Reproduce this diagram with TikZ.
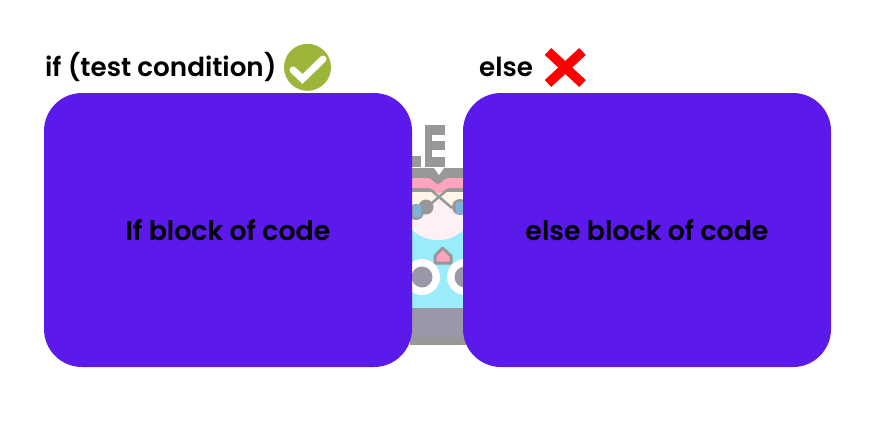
\documentclass[tikz,border=0pt]{standalone}
\usepackage{fontspec}
\setmainfont[BoldFont={Poppins SemiBold}]{Poppins}
\definecolor{blockc}{HTML}{5C19EC}
\definecolor{okc}{HTML}{9CB63A}
\definecolor{gA}{HTML}{989898}
\definecolor{gB}{HTML}{9898A8}
\definecolor{pinkc}{HTML}{FFA3BF}
\definecolor{creamc}{HTML}{FFF6E8}
\definecolor{facec}{HTML}{FFF0F5}
\definecolor{cyanc}{HTML}{98ECFB}
\definecolor{bluec}{HTML}{7FB2D6}
\tikzset{
  block/.style={fill=blockc,draw=none,rounded corners=38pt,minimum width=368pt,minimum height=274pt,inner sep=0pt,font=\bfseries\fontsize{26.8}{30}\selectfont,text=black},
  lab/.style={anchor=base west,inner sep=0pt,font=\bfseries\fontsize{26.2}{30}\selectfont,text=black}
}
\begin{document}
\begin{tikzpicture}[x=1pt,y=-1pt]
\useasboundingbox (0,0) rectangle (875,437);
% background picture showing between the blocks
\fill[gA] (425,125) rectangle (445,167);
\fill[white] (432,135) rectangle (445,141);
\fill[white] (432,150) rectangle (445,157);
\fill[gA] (405,156) rectangle (421,167);
\begin{scope}
\clip (410,168) rectangle (466,345);
\fill[gA] (405,168) rectangle (470,345);
\fill[cyanc] (405,222) rectangle (470,308);
\fill[facec] (405,192) -- (470,192) -- (470,224) .. controls (458,236) and (450,240) .. (438,240) .. controls (426,240) and (418,236) .. (405,224) -- cycle;
\fill[creamc] (405,192) rectangle (470,206);
\fill[facec] (428,206) -- (438,198) -- (448,206) -- cycle;
\fill[pinkc] (405,178) -- (428,178) .. controls (432,178) and (434,184) .. (438,184) .. controls (442,184) and (444,178) .. (448,178) -- (470,178) -- (470,188) -- (405,188) -- cycle;
\fill[pinkc] (428,187) -- (450,187) -- (439,194) -- cycle;
\fill[white] (434,168) -- (444,168) -- (439,175) -- cycle;
\fill[gB] (405,308) rectangle (470,337);
\draw[gA,line width=2.5pt] (405,190) -- (431,190) -- (452,208);
\draw[gA,line width=2.5pt] (470,190) -- (447,190) -- (426,208);
\fill[gA] (426,207) circle (7.5);
\fill[gA] (460,207) circle (8);
\fill[gA] (416,212) circle (8);
\fill[bluec] (413,205) rectangle (421,217);
\fill[bluec] (456,202) rectangle (464,214);
\draw[gA,line width=3pt,fill=pinkc,line join=round] (435,263) -- (435,256) -- (442.5,248) -- (451,256) -- (451,263) -- cycle;
\fill[white] (422,277) circle (18);
\fill[gB] (422,277) circle (10.5);
\fill[white] (465,277) circle (18);
\fill[gB] (465,277) circle (10.5);
\end{scope}
% blocks
\node[block] (ifblock) at (228,230) {If block of code};
\node[block] (elseblock) at (647,230) {else block of code};
% labels
\node[lab] (iflabel) at (45,76) {if (test condition)};
\node[lab] (elselabel) at (479,76) {else};
% marks
\node[circle,fill=okc,minimum size=47pt,inner sep=0pt] (okmark) at (307.5,67.3) {};
\draw[white,line width=7pt,line cap=round,line join=miter] (293,70) -- (302.5,79) -- (323,59);
\draw[red,line width=9.5pt] (548,51.5) -- (582.5,83.5);
\draw[red,line width=9.5pt] (582.5,51.5) -- (548,83.5);
\end{tikzpicture}
\end{document}
